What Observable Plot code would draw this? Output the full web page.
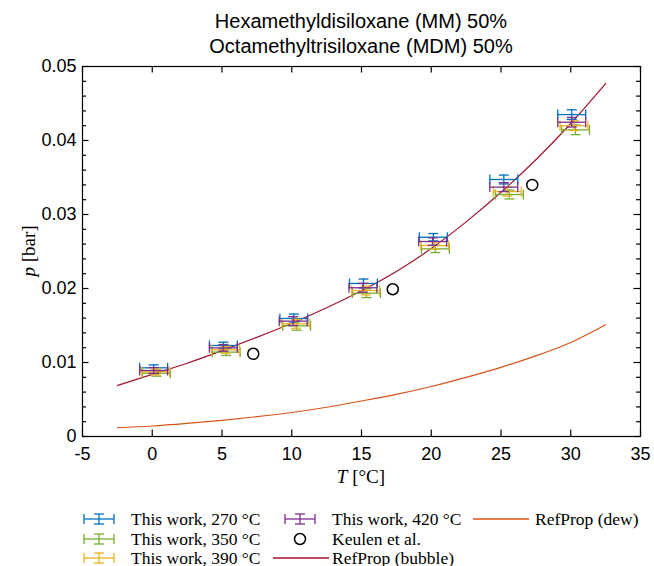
<!DOCTYPE html>
<html><head><meta charset="utf-8">
<script src="https://cdn.jsdelivr.net/npm/d3@7"></script>
<script src="https://cdn.jsdelivr.net/npm/@observablehq/plot@0.6"></script>
<style>
body{margin:0;background:#fff;}
#wrap{position:relative;width:654px;height:566px;overflow:hidden;font-family:"Liberation Sans",Arial,sans-serif;}
#title{position:absolute;left:82px;width:558px;top:9px;text-align:center;font-size:20px;line-height:25px;color:#000;}
#chart{position:absolute;left:0;top:58px;}
.li{position:absolute;height:20px;display:flex;align-items:center;font-family:"Liberation Serif",serif;font-size:17.5px;color:#000;white-space:nowrap;}
.li svg{display:block;}
</style></head>
<body><div id="wrap">
<div id="title">Hexamethyldisiloxane (MM) 50%<br>Octamethyltrisiloxane (MDM) 50%</div>
<div id="chart"></div>
</div>
<script>
// ---- data ----
const seriesNames = ["This work, 270 °C", "This work, 350 °C", "This work, 390 °C", "This work, 420 °C"];
const seriesColors = ["#0072BD", "#77AC30", "#EDB120", "#7E2F8E"];
const T270 = [0.10, 5.10, 10.15, 15.14, 20.15, 25.20, 30.07];
const p270 = [0.00928, 0.01230, 0.01595, 0.02068, 0.02693, 0.03473, 0.04350];
const T350 = [0.30, 5.30, 10.35, 15.35, 20.30, 25.60, 30.34];
const p350 = [0.00855, 0.01140, 0.01496, 0.01937, 0.02536, 0.03270, 0.04144];
const T390 = [0.25, 5.25, 10.30, 15.30, 20.25, 25.45, 30.23];
const p390 = [0.00874, 0.01171, 0.01523, 0.01973, 0.02580, 0.03310, 0.04200];
const T420 = [0.10, 5.10, 10.10, 15.10, 20.10, 25.20, 30.07];
const p420 = [0.00892, 0.01198, 0.01559, 0.02010, 0.02635, 0.03370, 0.04247];
const Terr = [1, 1, 1, 1, 1, 1, 1];
const perr = [0.0004, 0.00045, 0.0006, 0.0006, 0.0005, 0.0006, 0.00065];
const keulenT = [7.24, 17.24, 27.24];
const keulenP = [0.01118, 0.0199, 0.0340];
const refT = [-2.5, 0, 2.5, 5, 7.5, 10, 12.5, 15, 17.5, 20, 22.5, 25, 27.5, 30, 32.5];
const bubbleP = [0.0069, 0.0084, 0.0099, 0.0116, 0.0134, 0.0153, 0.0174, 0.0197, 0.0223, 0.0254, 0.0290, 0.0330, 0.0374, 0.0423, 0.0477];
const dewP = [0.00118, 0.00142, 0.00178, 0.00219, 0.00268, 0.00324, 0.00395, 0.0048, 0.0057, 0.00676, 0.0080, 0.00935, 0.0109, 0.0127, 0.0151];
const xTicks = [-5, 0, 5, 10, 15, 20, 25, 30, 35];
const yTicks = [0, 0.01, 0.02, 0.03, 0.04, 0.05];
const yMinor = [0.002, 0.004, 0.006, 0.008, 0.012, 0.014, 0.016, 0.018, 0.022, 0.024, 0.026, 0.028, 0.032, 0.034, 0.036, 0.038, 0.042, 0.044, 0.046, 0.048];

const Ts = [T270, T350, T390, T420], Ps = [p270, p350, p390, p420];
const rows = [];
Ts.forEach((tt, s) => tt.forEach((t, i) => rows.push({s, T: t, p: Ps[s][i], eT: Terr[i], eP: perr[i]})));
const bubble = refT.map((t, i) => ({T: t, p: bubbleP[i]}));
const dew = refT.map((t, i) => ({T: t, p: dewP[i]}));
const keulen = keulenT.map((t, i) => ({T: t, p: keulenP[i]}));

// custom line symbols for error-bar caps
const seg = (a, b, c, d) => ({draw(ctx, size) { const r = Math.sqrt(size / Math.PI); ctx.moveTo(a * r, b * r); ctx.lineTo(c * r, d * r); }});
const hSym = seg(-1, 0, 1, 0), vSym = seg(0, -1, 0, 1);

const W = 654, H = 442, mL = 82, mR = 14, mT = 8, mB = 64;
const fw = W - mL - mR, fh = H - mT - mB;
const marks = [];
marks.push(Plot.line(dew, {x: "T", y: "p", stroke: "#D95319", strokeWidth: 1.2, curve: "natural"}));
marks.push(Plot.line(bubble, {x: "T", y: "p", stroke: "#A2142F", strokeWidth: 1.2, curve: "natural"}));
[0, 1, 2, 3].forEach(s => {
  const d = rows.filter(r => r.s === s), c = seriesColors[s], sw = 1.3;
  marks.push(Plot.ruleY(d, {y: "p", x1: r => r.T - r.eT, x2: r => r.T + r.eT, stroke: c, strokeWidth: sw}));
  marks.push(Plot.ruleX(d, {x: "T", y1: r => r.p - r.eP, y2: r => r.p + r.eP, stroke: c, strokeWidth: sw}));
  marks.push(Plot.dot(d, {x: "T", y: r => r.p + r.eP, symbol: hSym, r: 5, stroke: c, fill: "none", strokeWidth: sw}));
  marks.push(Plot.dot(d, {x: "T", y: r => r.p - r.eP, symbol: hSym, r: 5, stroke: c, fill: "none", strokeWidth: sw}));
  marks.push(Plot.dot(d, {x: r => r.T - r.eT, y: "p", symbol: vSym, r: 5, stroke: c, fill: "none", strokeWidth: sw}));
  marks.push(Plot.dot(d, {x: r => r.T + r.eT, y: "p", symbol: vSym, r: 5, stroke: c, fill: "none", strokeWidth: sw}));
});
marks.push(Plot.dot(keulen, {x: "T", y: "p", r: 5.5, stroke: "black", strokeWidth: 1.5, fill: "none"}));
// inward ticks (box on)
const major = 6.5, minor = 4, tw = 1.2;
marks.push(Plot.ruleY(yTicks, {y: d => d, insetRight: fw - major, stroke: "black", strokeWidth: tw}));
marks.push(Plot.ruleY(yTicks, {y: d => d, insetLeft: fw - major, stroke: "black", strokeWidth: tw}));
marks.push(Plot.ruleY(yMinor, {y: d => d, insetRight: fw - minor, stroke: "black", strokeWidth: tw}));
marks.push(Plot.ruleY(yMinor, {y: d => d, insetLeft: fw - minor, stroke: "black", strokeWidth: tw}));
marks.push(Plot.ruleX(xTicks, {x: d => d, insetTop: fh - major, stroke: "black", strokeWidth: tw}));
marks.push(Plot.ruleX(xTicks, {x: d => d, insetBottom: fh - major, stroke: "black", strokeWidth: tw}));
marks.push(Plot.frame({stroke: "black", strokeWidth: 1.2}));
marks.push(Plot.axisX(xTicks, {tickSize: 0, tickPadding: 11, tickFormat: d => String(d), fontSize: 18}));
marks.push(Plot.axisY(yTicks, {tickSize: 0, tickPadding: 6, tickFormat: d => String(d), fontSize: 18}));

const plot = Plot.plot({
  width: W, height: H,
  marginLeft: mL, marginRight: mR, marginTop: mT, marginBottom: mB,
  x: {domain: [-5, 35], label: null},
  y: {domain: [0, 0.05], label: null},
  style: {fontFamily: "Liberation Sans, Arial, sans-serif", color: "black", background: "white", overflow: "visible"},
  marks
});
document.getElementById("chart").appendChild(plot);

// axis labels with italic variables
const svg = d3.select(plot);
const xs = plot.scale("x"), ys = plot.scale("y");
const cx = (xs.apply(-5) + xs.apply(35)) / 2, cy = (ys.apply(0) + ys.apply(0.05)) / 2;
const xl = svg.append("text").attr("x", cx).attr("y", 421).attr("text-anchor", "middle").attr("dominant-baseline", "middle")
  .style("font-family", "Liberation Serif, serif").style("font-size", "19px").attr("fill", "black");
xl.append("tspan").style("font-style", "italic").text("T");
xl.append("tspan").text(" [°C]");
const yl = svg.append("text").attr("transform", `translate(31,${cy}) rotate(-90)`).attr("text-anchor", "middle").attr("dominant-baseline", "middle")
  .style("font-family", "Liberation Serif, serif").style("font-size", "19px").attr("fill", "black");
yl.append("tspan").style("font-style", "italic").text("p");
yl.append("tspan").text(" [bar]");

// legend
const legend = document.getElementById("wrap");
function ebIcon(c) {
  return `<svg width="32" height="16"><g stroke="${c}" stroke-width="1.3" fill="none">
  <line x1="1" y1="8" x2="31" y2="8"/><line x1="1" y1="3" x2="1" y2="13"/><line x1="31" y1="3" x2="31" y2="13"/>
  <line x1="16" y1="3" x2="16" y2="13"/><line x1="11" y1="3" x2="21" y2="3"/><line x1="11" y1="13" x2="21" y2="13"/></g></svg>`;
}
const lineIcon = c => `<svg width="56" height="16"><line x1="0" y1="8" x2="56" y2="8" stroke="${c}" stroke-width="1.3"/></svg>`;
const circIcon = `<svg width="32" height="16"><circle cx="16" cy="8" r="5.5" stroke="black" stroke-width="1.5" fill="none"/></svg>`;
const items = [
  {icon: ebIcon(seriesColors[0]), text: seriesNames[0], ix: 83, tx: 131, y: 519},
  {icon: ebIcon(seriesColors[1]), text: seriesNames[1], ix: 83, tx: 131, y: 539},
  {icon: ebIcon(seriesColors[2]), text: seriesNames[2], ix: 83, tx: 131, y: 558},
  {icon: ebIcon(seriesColors[3]), text: seriesNames[3], ix: 284, tx: 332, y: 519},
  {icon: circIcon, text: "Keulen et al.", ix: 284, tx: 332, y: 539},
  {icon: lineIcon("#A2142F"), text: "RefProp (bubble)", ix: 273, tx: 332, y: 558},
  {icon: lineIcon("#D95319"), text: "RefProp (dew)", ix: 473, tx: 535, y: 519}
];
items.forEach(it => {
  const a = document.createElement("div"); a.className = "li"; a.style.left = it.ix + "px"; a.style.top = (it.y - 10) + "px"; a.innerHTML = it.icon; legend.appendChild(a);
  const b = document.createElement("div"); b.className = "li"; b.style.left = it.tx + "px"; b.style.top = (it.y - 10) + "px"; b.textContent = it.text; legend.appendChild(b);
});
</script>
</body></html>
